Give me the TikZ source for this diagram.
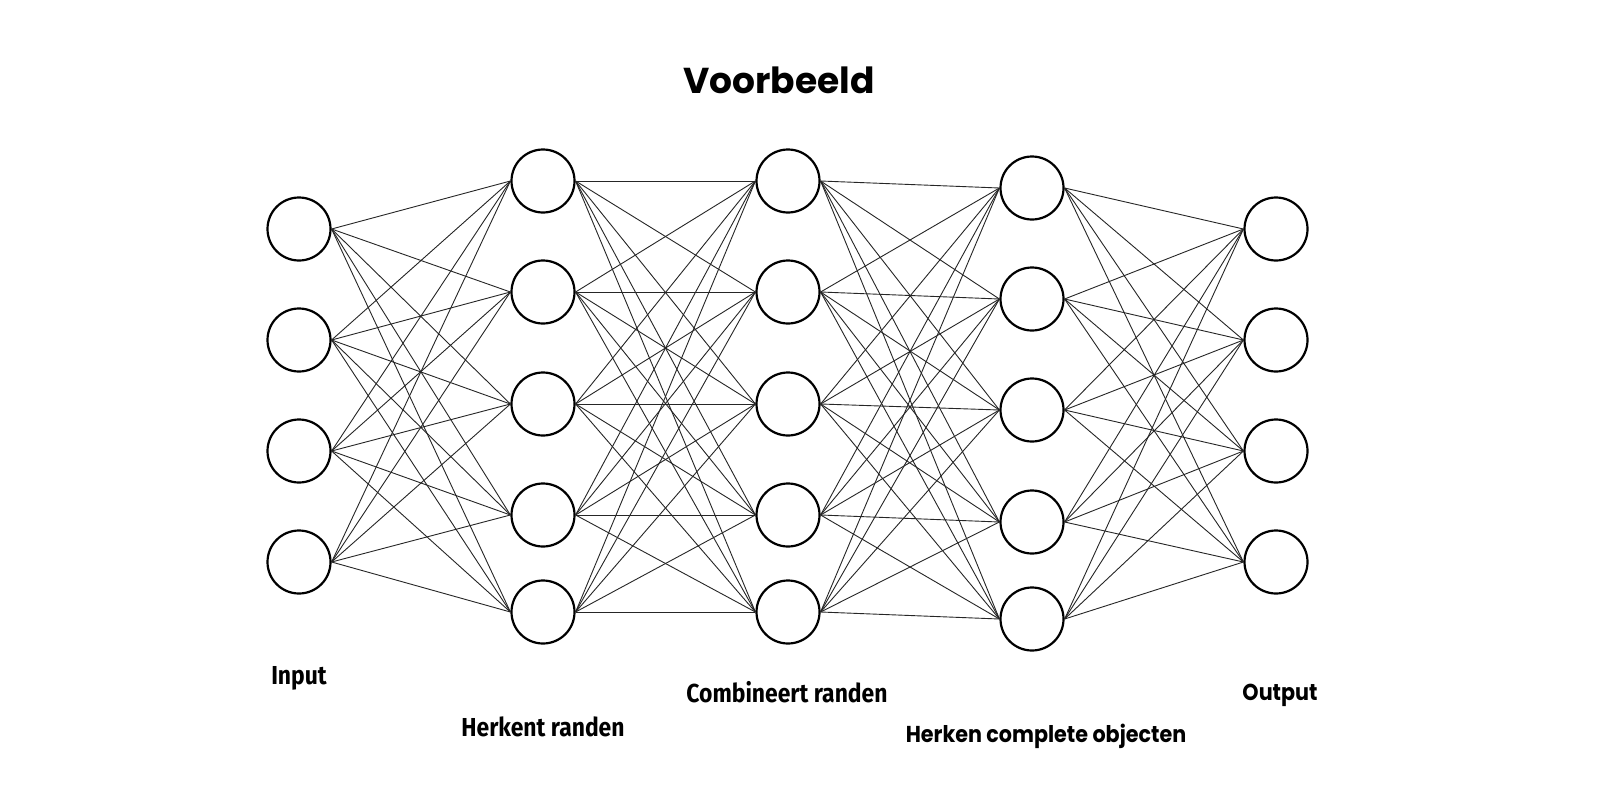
\documentclass[tikz,border=0pt]{standalone}
\usepackage{fontspec}
\setmainfont{Poppins}
\newfontfamily\cond{Fira Sans}[FakeStretch=0.88]
\newfontfamily\popn{Poppins}[FakeStretch=0.9]
\begin{document}
\begin{tikzpicture}[x=1pt,y=-1pt,
  neuron/.style={circle,draw=black,line width=2.2pt,minimum size=63pt,inner sep=0pt,fill=white},
  link/.style={line width=0.9pt,draw=black!85},
  title/.style={font=\fontsize{36}{40}\selectfont\bfseries,anchor=base},
  lblc/.style={font=\cond\fontsize{26}{30}\selectfont\bfseries,anchor=base},
  lblw/.style={font=\popn\fontsize{23}{27}\selectfont\bfseries,anchor=base}]
\useasboundingbox (0,0) rectangle (1600,800);
\fill[white] (0,0) rectangle (1600,800);
% nodes
\foreach \i/\y in {1/229,2/340,3/451,4/562} \node[neuron] (a\i) at (299,\y) {};
\foreach \i/\y in {1/181,2/292,3/404,4/515,5/612} \node[neuron] (b\i) at (543,\y) {};
\foreach \i/\y in {1/181,2/292,3/404,4/515,5/612} \node[neuron] (c\i) at (788,\y) {};
\foreach \i/\y in {1/188,2/299,3/410,4/522,5/619} \node[neuron] (d\i) at (1032,\y) {};
\foreach \i/\y in {1/229,2/340,3/451,4/562} \node[neuron] (e\i) at (1276,\y) {};
% connections
\foreach \i in {1,...,4} \foreach \j in {1,...,5} \draw[link] (a\i.east) -- (b\j.west);
\foreach \i in {1,...,5} \foreach \j in {1,...,5} \draw[link] (b\i.east) -- (c\j.west);
\foreach \i in {1,...,5} \foreach \j in {1,...,5} \draw[link] (c\i.east) -- (d\j.west);
\foreach \i in {1,...,5} \foreach \j in {1,...,4} \draw[link] (d\i.east) -- (e\j.west);
% labels
\node[title] (t) at (779,93) {Voorbeeld};
\node[lblc] (l1) at (299,684) {Input};
\node[lblc] (l2) at (543,736) {Herkent randen};
\node[lblc] (l3) at (787,702) {Combineert randen};
\node[lblw] (l4) at (1046,742) {Herken complete objecten};
\node[lblw] (l5) at (1280,700) {Output};
\end{tikzpicture}
\end{document}
